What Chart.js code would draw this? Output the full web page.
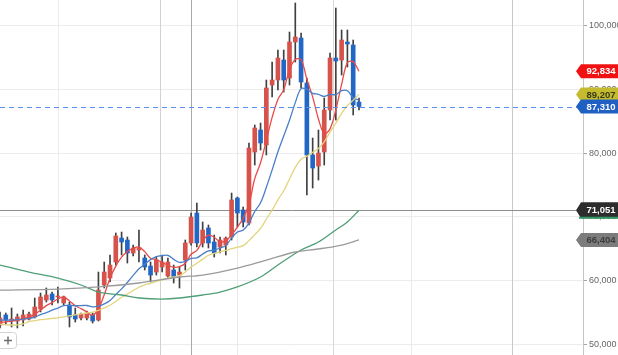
<!DOCTYPE html>
<html>
<head>
<meta charset="utf-8">
<script src="https://cdn.jsdelivr.net/npm/chart.js@4.4.1/dist/chart.umd.min.js"></script>
<style>
  html, body { margin: 0; padding: 0; background: #fff; }
  #wrap { position: relative; width: 618px; height: 355px; }
</style>
</head>
<body>
<div id="wrap"><canvas id="chart"></canvas></div>
<script>
// daily candles, oldest first
const candleOpen = [53070, 54640, 53850, 53700, 53850, 54010, 54320, 55580, 56990, 57930, 57460, 56520, 56200, 54640, 54170, 54170, 54640, 53850, 59340, 60430,
  62940, 66700, 66390, 64350, 64820, 63570, 62310, 61370, 62160, 60750, 61690, 60900, 63250, 65920, 70620, 65920, 68270, 66080, 65290, 65600,
  66860, 72970, 71090, 69050, 80180, 83630, 81280, 90680, 91460, 94590, 91770, 97420, 98040, 90990, 79710, 77980, 80180, 86760, 94910, 94590,
  97420, 96950, 88010];
const candleHigh = [55110, 54950, 55730, 54790, 55420, 55110, 57300, 58080, 58870, 58240, 59000, 57610, 56670, 55730, 54950, 55260, 54950, 61370, 62940, 64040,
  67490, 67640, 66860, 65600, 67960, 64040, 62940, 63720, 64040, 63570, 62470, 62160, 66390, 70620, 72190, 69210, 68740, 67170, 66860, 66860,
  73750, 73130, 71560, 81590, 84410, 84720, 91460, 94280, 96160, 96160, 98980, 103530, 98830, 91770, 82370, 83630, 88640, 95690, 102740, 99300,
  99300, 97730, 88640];
const candleLow = [52600, 53230, 52760, 52600, 52910, 53850, 54170, 55110, 56670, 56200, 56520, 56200, 52760, 53540, 53850, 53850, 53380, 53700, 58870, 59810,
  62470, 64040, 62780, 63880, 62940, 61690, 59810, 60900, 61370, 60430, 59650, 58870, 61690, 65600, 65290, 65290, 65130, 63720, 64350, 64040,
  66390, 68430, 68430, 68740, 78140, 80490, 79710, 88800, 89890, 89580, 90680, 94280, 90210, 73440, 74540, 75790, 78140, 85190, 85190, 92240,
  93500, 85980, 86760];
const candleClose = [54170, 53850, 54010, 54320, 54640, 54790, 55890, 57460, 57770, 56990, 57610, 57460, 54320, 54010, 54790, 54950, 53700, 58550, 61370, 62470,
  67020, 66080, 64350, 65130, 65130, 62160, 60900, 63250, 62940, 62940, 60590, 61370, 65920, 69990, 65920, 67960, 65920, 64350, 66390, 66700,
  72660, 70620, 69210, 80810, 83940, 81590, 90210, 91460, 94910, 91460, 97420, 98200, 91150, 79710, 77670, 80020, 86760, 94910, 94440, 97730,
  97100, 87540, 87310];

// moving averages read per candle
const ma5 = [53540, 53540, 53700, 53800, 54100, 54320, 54730, 55420, 56110, 56580, 57140, 57460, 56830, 56080, 55640, 55110, 54600, 55600, 57800, 60400,
  62300, 63700, 64600, 65100, 65300, 64570, 63530, 63310, 62880, 62440, 62120, 62220, 62750, 64160, 64760, 66230, 67140, 66830, 66110, 66260,
  67200, 68400, 69800, 72000, 76000, 78500, 82000, 85600, 88420, 89930, 93090, 94690, 94630, 91590, 88830, 85350, 83060, 83810, 86760, 90770,
  94190, 94340, 92830];
const ma10 = [53850, 53850, 53850, 53900, 54000, 54100, 54300, 54700, 55000, 55390, 55730, 56090, 56130, 56090, 56110, 56130, 55910, 56020, 56380, 56920,
  57860, 58730, 59730, 60840, 61880, 62600, 63320, 63790, 63940, 63990, 63350, 62880, 63030, 63520, 63600, 64180, 64680, 64790, 65140, 65510,
  66720, 67640, 67970, 69050, 70860, 72220, 74650, 77360, 80210, 82690, 85160, 87920, 90120, 90010, 89380, 89220, 88880, 89220, 89170, 89800,
  89770, 88700, 88320];
const ma20 = [53200, 53100, 53070, 53100, 53250, 53600, 53750, 53900, 54000, 54100, 54200, 54350, 54500, 54650, 54800, 54950, 55100, 55350, 55750, 56160,
  56800, 57410, 57930, 58470, 58990, 59360, 59610, 59900, 60160, 60460, 60610, 60800, 61380, 62180, 62740, 63390, 64000, 64290, 64540, 64750,
  65030, 65260, 65500, 66290, 67230, 68200, 69660, 71080, 72670, 74100, 75940, 77780, 79040, 79530, 80120, 80720, 81760, 83290, 84690, 86240,
  87470, 88310, 89210];

// slow averages, read at a few candles
const ma60At = [0, 5, 10, 14, 17, 21, 24, 28, 31, 35, 38, 41, 45, 48, 52, 55, 58, 60, 62];
const ma60 = [62470, 61370, 60430, 59340, 58240, 57770, 57300, 57140, 57300, 57770, 58240, 59030, 60590, 62470, 64820, 66070, 67960, 69210, 71050];
const ma120At = [0, 10, 17, 24, 31, 35, 41, 46, 51, 55, 59, 62];
const ma120 = [58550, 58700, 59030, 59650, 60590, 60900, 62000, 63250, 64510, 64980, 65600, 66400];

const yTicks = [50000, 60000, 70000, 80000, 90000, 100000];
const lastPrice = 87310;
const markLine = 71051;
const tagValues = { ma5: 92834, ma20: 89207, price: 87310, ma60: 71051, ma120: 66404 };

const UP = '#d6524a';
const DOWN = '#2267c6';
const SLOT = 5.79;      // px per candle in the reference
const PLOT_W = 583;
const dividers = [
  { at: 10.02, color: '#ededed' }, { at: 27.63, color: '#d2d2d2' }, { at: 32.99, color: '#a9a9a9' },
  { at: 40.93, color: '#e8e8e8' }, { at: 57.51, color: '#d8d8d8' }, { at: 70.98, color: '#e9e9e9' },
  { at: 88.43, color: '#c9c9c9' }
];

const idx = candleOpen.map((_, i) => i);
const candleColor = idx.map(i => candleClose[i] >= candleOpen[i] ? UP : DOWN);

function tag(ctx, y, text, fill, ink, h) {
  const tip = 576, body = 581, right = 620;
  h = h || 14;
  ctx.beginPath();
  ctx.moveTo(tip, y);
  ctx.lineTo(body, y - h / 2);
  ctx.lineTo(right, y - h / 2);
  ctx.lineTo(right, y + h / 2);
  ctx.lineTo(body, y + h / 2);
  ctx.closePath();
  ctx.fillStyle = fill;
  ctx.fill();
  ctx.fillStyle = ink;
  ctx.font = 'bold 9.5px Arial';
  ctx.textAlign = 'center';
  ctx.textBaseline = 'middle';
  ctx.fillText(text, 601, y + 0.5);
}

const overlay = {
  id: 'overlay',
  beforeDatasetsDraw(chart) {
    const { ctx, chartArea: a, scales: { x, y } } = chart;
    ctx.save();
    ctx.lineWidth = 1;
    dividers.forEach(d => {
      const px = Math.round(x.getPixelForValue(d.at)) + 0.5;
      ctx.strokeStyle = d.color;
      ctx.beginPath(); ctx.moveTo(px, a.top); ctx.lineTo(px, a.bottom); ctx.stroke();
    });
    const py = Math.round(y.getPixelForValue(markLine)) + 0.5;
    ctx.strokeStyle = '#8d8d8d';
    ctx.beginPath(); ctx.moveTo(a.left, py); ctx.lineTo(a.right, py); ctx.stroke();
    ctx.restore();
  },
  afterDatasetsDraw(chart) {
    // current price, dashed
    const { ctx, chartArea: a, scales: { y } } = chart;
    const py = Math.round(y.getPixelForValue(lastPrice)) + 0.5;
    ctx.save();
    ctx.strokeStyle = '#5a8ff0';
    ctx.lineWidth = 1.2;
    ctx.setLineDash([5, 4]);
    ctx.beginPath(); ctx.moveTo(a.left, py); ctx.lineTo(a.right, py); ctx.stroke();
    ctx.restore();
  },
  afterDraw(chart) {
    const { ctx, scales: { y } } = chart;
    const fmt = v => v.toLocaleString('en-US');
    ctx.save();
    tag(ctx, y.getPixelForValue(tagValues.ma5), fmt(tagValues.ma5), '#f01212', '#ffffff');
    tag(ctx, y.getPixelForValue(tagValues.ma20), fmt(tagValues.ma20), '#c4bb2e', '#3a3a1a');
    tag(ctx, y.getPixelForValue(tagValues.price), fmt(tagValues.price), '#1f60c2', '#ffffff');
    const g = y.getPixelForValue(tagValues.ma60);
    tag(ctx, g, fmt(tagValues.ma60), '#2d2d2d', '#ffffff', 16);
    ctx.strokeStyle = '#2f9a63';
    ctx.lineWidth = 2;
    ctx.beginPath(); ctx.moveTo(579, g + 7.5); ctx.lineTo(618, g + 7.5); ctx.stroke();
    tag(ctx, y.getPixelForValue(tagValues.ma120), fmt(tagValues.ma120), '#7c7c7c', '#3d3d3d');

    // zoom button, bottom left
    ctx.fillStyle = '#ffffff';
    ctx.strokeStyle = '#d4d4d4';
    ctx.lineWidth = 1;
    ctx.beginPath();
    ctx.roundRect(-3.5, 332.5, 20, 16, 3);
    ctx.fill(); ctx.stroke();
    ctx.strokeStyle = '#6f6f6f';
    ctx.lineWidth = 1.5;
    ctx.beginPath();
    ctx.moveTo(4, 340.5); ctx.lineTo(12, 340.5);
    ctx.moveTo(8, 336.5); ctx.lineTo(8, 344.5);
    ctx.stroke();
    ctx.restore();
  }
};

function maLine(values, at, color) {
  return {
    type: 'line',
    data: values.map((v, i) => ({ x: at ? at[i] : i, y: v })),
    borderColor: color,
    borderWidth: 1.3,
    pointRadius: 0,
    tension: 0.35,
    fill: false,
    order: 1
  };
}

new Chart(document.getElementById('chart'), {
  type: 'bar',
  data: {
    datasets: [
      maLine(ma120, ma120At, '#9b9b9b'),
      maLine(ma60, ma60At, '#4f9e76'),
      maLine(ma20, null, '#e3d47e'),
      maLine(ma10, null, '#4a7fc8'),
      maLine(ma5, null, '#ea4a4a'),
      {
        data: idx.map(i => ({ x: i, y: [candleLow[i], candleHigh[i]] })),
        backgroundColor: '#404040',
        barThickness: 1,
        grouped: false,
        borderWidth: 0,
        order: 6
      },
      {
        data: idx.map(i => ({ x: i, y: [candleOpen[i], candleClose[i]] })),
        backgroundColor: candleColor,
        barThickness: 4,
        minBarLength: 1,
        grouped: false,
        borderWidth: 0,
        order: 5
      }
    ]
  },
  options: {
    responsive: true,
    maintainAspectRatio: false,
    animation: false,
    layout: { padding: 0 },
    plugins: { legend: { display: false }, tooltip: { enabled: false } },
    scales: {
      x: { type: 'linear', display: false, min: 0, max: PLOT_W / SLOT, offset: false },
      y: {
        position: 'right',
        min: 48370,
        max: 104000,
        afterBuildTicks: s => { s.ticks = yTicks.map(v => ({ value: v })); },
        afterFit: s => { s.width = 35; s.paddingTop = 0; s.paddingBottom = 0; },
        grid: { color: '#ececec', tickColor: '#a5a5a5', tickLength: 4 },
        border: { color: '#c6c6c6' },
        ticks: {
          padding: 2,
          color: '#666666',
          font: { family: 'Arial', size: 9 },
          callback: v => v.toLocaleString('en-US')
        }
      }
    }
  },
  plugins: [overlay]
});
</script>
</body>
</html>
